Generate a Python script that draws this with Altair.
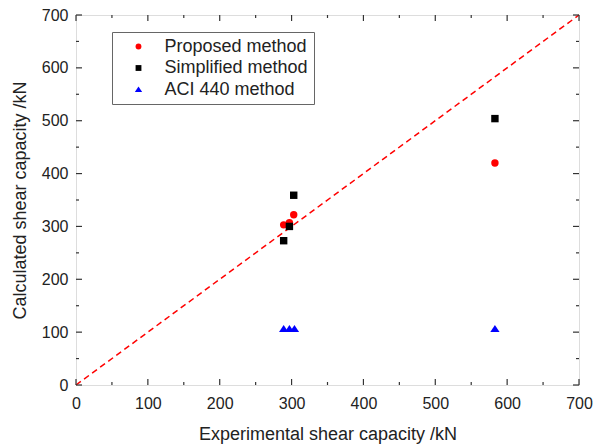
import altair as alt
import pandas as pd

series = ["Proposed method", "Simplified method", "ACI 440 method"]
exp_x = [289, 297, 303, 583]
proposed = [303, 307, 322, 420]
simplified = [273, 300, 359, 504]
exp_aci = [289, 297, 304, 583]
aci = [106, 106, 106, 106]

major_ticks = [0, 100, 200, 300, 400, 500, 600, 700]
minor_ticks = [50, 150, 250, 350, 450, 550, 650]
diag = [0, 700]

W, H = 503, 370
FONT = "Liberation Sans"
TRI = "M-1.25,0.85 L1.25,0.85 L0,-1.05 Z"

rows = []
for x, y in zip(exp_x, proposed):
    rows.append({"exp": x, "calc": y, "series": series[0]})
for x, y in zip(exp_x, simplified):
    rows.append({"exp": x, "calc": y, "series": series[1]})
for x, y in zip(exp_aci, aci):
    rows.append({"exp": x, "calc": y, "series": series[2]})
df = pd.DataFrame(rows)

xscale = alt.Scale(domain=[0, 700], nice=False, zero=False)
yscale = alt.Scale(domain=[0, 700], nice=False, zero=False)

xaxis = alt.Axis(values=major_ticks, ticks=False, domain=False, grid=False, labelFlush=False,
                 labelFontSize=16, labelFont=FONT, labelColor="#222", labelPadding=10,
                 title="Experimental shear capacity /kN", titleFont=FONT, titleFontSize=18,
                 titleFontWeight="normal", titleColor="#222", titlePadding=14)
yaxis = alt.Axis(values=major_ticks, ticks=False, domain=False, grid=False, labelFlush=False,
                 labelFontSize=16, labelFont=FONT, labelColor="#222", labelPadding=8,
                 title="Calculated shear capacity /kN", titleFont=FONT, titleFontSize=18,
                 titleFontWeight="normal", titleColor="#222", titlePadding=12)

legend = alt.Legend(title=None, orient="none", legendX=36, legendY=17,
                    labelFont=FONT, labelFontSize=18, labelColor="#222",
                    symbolSize=34, symbolStrokeWidth=0, rowPadding=3.5,
                    padding=5.5, symbolOffset=12, labelOffset=17,
                    strokeColor="#666", fillColor="white", labelLimit=300)

diag_df = pd.DataFrame({"x": diag, "y": diag})
line = alt.Chart(diag_df).mark_line(color="#ff0000", strokeDash=[6, 4], strokeWidth=1.5).encode(
    x=alt.X("x:Q", scale=xscale, axis=xaxis),
    y=alt.Y("y:Q", scale=yscale, axis=yaxis),
)

pts = alt.Chart(df).mark_point(filled=True, opacity=1, size=55).encode(
    x=alt.X("exp:Q", scale=xscale, axis=xaxis),
    y=alt.Y("calc:Q", scale=yscale, axis=yaxis),
    color=alt.Color("series:N", scale=alt.Scale(domain=series, range=["#ff0000", "#000000", "#0000ff"]), legend=legend),
    shape=alt.Shape("series:N", scale=alt.Scale(domain=series, range=["circle", "square", TRI]), legend=legend),
)

def ticks(vals, length, side):
    d = pd.DataFrame({"v": vals})
    c = alt.Chart(d).mark_rule(color="#333", strokeWidth=1.2)
    if side == "bottom":
        return c.encode(x=alt.X("v:Q", scale=xscale), y=alt.value(H), y2=alt.value(H - length))
    if side == "top":
        return c.encode(x=alt.X("v:Q", scale=xscale), y=alt.value(0), y2=alt.value(length))
    if side == "left":
        return c.encode(y=alt.Y("v:Q", scale=yscale), x=alt.value(0), x2=alt.value(length))
    return c.encode(y=alt.Y("v:Q", scale=yscale), x=alt.value(W), x2=alt.value(W - length))

tick_layers = []
for side in ["bottom", "top", "left", "right"]:
    tick_layers.append(ticks(major_ticks, 6, side))
    tick_layers.append(ticks(minor_ticks, 3, side))

chart = alt.layer(line, *tick_layers, pts).properties(
    width=W, height=H,
    autosize=alt.AutoSizeParams(type="none"),
    padding={"left": 68, "top": 7, "right": 16, "bottom": 60},
).configure_view(stroke="#333", strokeWidth=1.5).configure(background="white")

chart.save("out.html", embed_options={"renderer": "svg", "actions": False})
